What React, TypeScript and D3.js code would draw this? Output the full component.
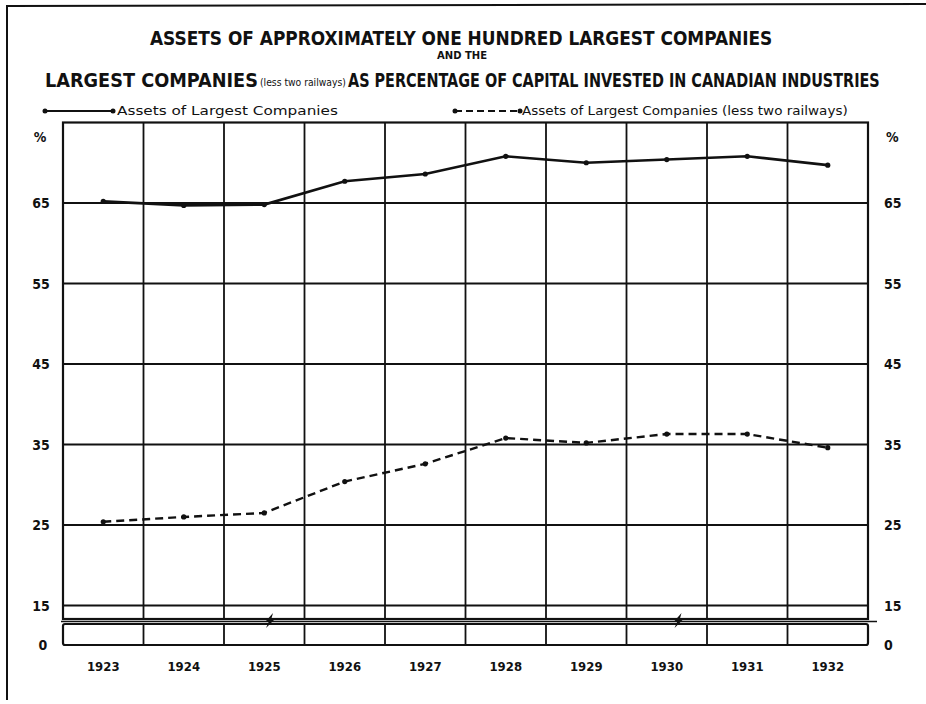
import { useEffect, useRef } from 'react';
import * as d3 from 'd3';

const years = ['1923', '1924', '1925', '1926', '1927', '1928', '1929', '1930', '1931', '1932'];
const assetsAll = [65.2, 64.7, 64.8, 67.7, 68.6, 70.8, 70.0, 70.4, 70.8, 69.7];
const assetsLessRailways = [25.4, 26.0, 26.5, 30.4, 32.6, 35.8, 35.2, 36.3, 36.3, 34.6];
const tickValues = [65, 55, 45, 35, 25, 15];

const FONT = "'DejaVu Sans Condensed', 'DejaVu Sans', sans-serif";

// place a text so that it spans a given width, squeezing it sideways
function fitText(
  g: d3.Selection<SVGGElement, unknown, null, undefined>,
  str: string, x: number, y: number, width: number, size: number, weight = 'bold'
) {
  const t = g.append('text').attr('font-size', size).attr('font-weight', weight).text(str);
  const natural = (t.node() as SVGTextElement).getComputedTextLength() || width;
  t.attr('transform', `translate(${x},${y}) scale(${width / natural},1)`);
  return t;
}

const App = () => {
  const ref = useRef<SVGSVGElement | null>(null);

  useEffect(() => {
    if (!ref.current) return;
    const svg = d3.select(ref.current);
    svg.selectAll('*').remove();

    const left = 63;
    const right = 868;
    const x = d3.scaleBand<string>().domain(years).range([left, right]);
    const y = d3.scaleLinear().domain([15, 65]).range([605.5, 203]);
    const top = y(75);
    const upperBottom = 619;
    const lowTop = 624;
    const lowBottom = 645; // the zero line

    // page border (scan edges)
    svg.append('path')
      .attr('d', 'M7,700 L7,6 L926,4')
      .attr('fill', 'none').attr('stroke', '#111').attr('stroke-width', 2);

    // titles
    const title = svg.append('g').attr('font-family', FONT).attr('fill', '#111');
    fitText(title, 'ASSETS OF APPROXIMATELY ONE HUNDRED LARGEST COMPANIES', 150, 45, 623, 19);
    fitText(title, 'AND THE', 437, 59, 50, 10);
    fitText(title, 'LARGEST COMPANIES', 45, 87, 213, 20);
    fitText(title, '(less two railways)', 260, 86, 86, 10, 'normal');
    fitText(title, 'AS PERCENTAGE OF CAPITAL INVESTED IN CANADIAN INDUSTRIES', 348, 87, 532, 20);

    // legend
    const lg = svg.append('g').attr('font-family', FONT).attr('fill', '#111');
    lg.append('line').attr('x1', 45).attr('x2', 113).attr('y1', 111).attr('y2', 111)
      .attr('stroke', '#111').attr('stroke-width', 2.2);
    lg.append('line').attr('x1', 455).attr('x2', 520).attr('y1', 111).attr('y2', 111)
      .attr('stroke', '#111').attr('stroke-width', 2.2).attr('stroke-dasharray', '7,4');
    [45, 113, 455, 520].forEach(cx => {
      lg.append('circle').attr('cx', cx).attr('cy', 111).attr('r', 2.5).attr('fill', '#111');
    });
    fitText(lg, 'Assets of Largest Companies', 117, 115, 221, 13, 'normal');
    fitText(lg, 'Assets of Largest Companies (less two railways)', 522, 115, 326, 13, 'normal');

    const grid = svg.append('g').attr('stroke', '#111').attr('fill', 'none');

    // horizontal gridlines
    tickValues.forEach(v => {
      grid.append('line').attr('x1', left).attr('x2', right).attr('y1', y(v)).attr('y2', y(v))
        .attr('stroke-width', 1.8);
    });

    // vertical gridlines (upper and lower panel)
    years.slice(1).forEach(yr => {
      const xx = x(yr)!;
      grid.append('line').attr('x1', xx).attr('x2', xx).attr('y1', top).attr('y2', upperBottom)
        .attr('stroke-width', 1.8);
      grid.append('line').attr('x1', xx).attr('x2', xx).attr('y1', lowTop).attr('y2', lowBottom)
        .attr('stroke-width', 1.8);
    });

    // frames
    grid.append('rect').attr('x', left).attr('y', top).attr('width', right - left)
      .attr('height', upperBottom - top).attr('stroke-width', 2.2);
    grid.append('rect').attr('x', left).attr('y', lowTop).attr('width', right - left)
      .attr('height', lowBottom - lowTop).attr('stroke-width', 2.2).attr('rx', 2);
    // break line
    grid.append('line').attr('x1', left - 2).attr('x2', right + 9).attr('y1', 621.5).attr('y2', 621.5)
      .attr('stroke-width', 1.4);

    // break marks
    [x('1925')! + 45, x('1930')! + 51].forEach(bx => {
      svg.append('path')
        .attr('d', `M${bx - 3},${628} L${bx},${621} L${bx - 3},${621} L${bx + 4},${613} L${bx + 2},${620} L${bx + 5},${620} Z`)
        .attr('fill', '#111');
    });

    // y axis labels
    const lab = svg.append('g').attr('font-family', FONT).attr('font-weight', 'bold')
      .attr('font-size', 14).attr('fill', '#111');
    tickValues.forEach(v => {
      lab.append('text').attr('x', 41).attr('y', y(v) + 5).attr('text-anchor', 'middle').text(String(v));
      lab.append('text').attr('x', 884).attr('y', y(v) + 5).text(String(v));
    });
    lab.append('text').attr('x', 43).attr('y', lowBottom + 5).attr('text-anchor', 'middle').text('0');
    lab.append('text').attr('x', 884).attr('y', lowBottom + 5).text('0');
    lab.append('text').attr('x', 40).attr('y', 142).attr('text-anchor', 'middle').text('%');
    lab.append('text').attr('x', 886).attr('y', 142).text('%');

    // year labels
    const yl = svg.append('g').attr('font-family', FONT).attr('font-weight', 'bold')
      .attr('font-size', 13).attr('fill', '#111');
    years.forEach(yr => {
      yl.append('text').attr('x', x(yr)! + x.bandwidth() / 2).attr('y', 671)
        .attr('text-anchor', 'middle')
        .text(yr);
    });

    // series
    const cx = (i: number) => x(years[i])! + x.bandwidth() / 2;
    const line = d3.line<number>().x((_, i) => cx(i)).y(d => y(d));

    svg.append('path').datum(assetsAll).attr('d', line)
      .attr('fill', 'none').attr('stroke', '#111').attr('stroke-width', 2.6);
    svg.append('path').datum(assetsLessRailways).attr('d', line)
      .attr('fill', 'none').attr('stroke', '#111').attr('stroke-width', 2.4)
      .attr('stroke-dasharray', '8,5');

    [assetsAll, assetsLessRailways].forEach(series => {
      svg.append('g').selectAll('circle').data(series).enter().append('circle')
        .attr('cx', (_, i) => cx(i)).attr('cy', d => y(d)).attr('r', 2.6).attr('fill', '#111');
    });
  }, []);

  return (
    <svg ref={ref} width={926} height={704}
      style={{ position: 'absolute', left: 0, top: 0, background: '#fff' }} />
  );
};

export default App;
